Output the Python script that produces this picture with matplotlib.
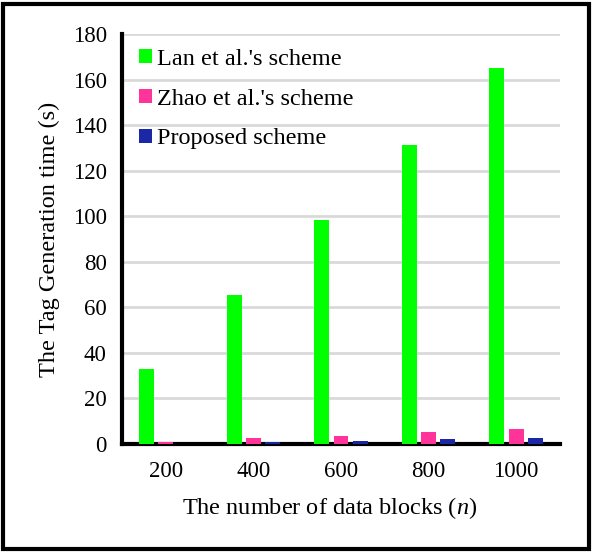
import numpy as np
import matplotlib.pyplot as plt
from matplotlib.patches import Rectangle

# data
blocks = ["200", "400", "600", "800", "1000"]
lan = [33.0, 65.5, 98.3, 131.2, 165.0]
zhao = [1.0, 2.5, 3.6, 5.1, 6.6]
proposed = [0.0, 0.7, 1.3, 2.0, 2.7]
labels = ["Lan et al.'s scheme", "Zhao et al.'s scheme", "Proposed scheme"]
colors = ["#00FF00", "#FF3399", "#1A27A6"]

plt.rcParams['font.family'] = ['Liberation Serif', 'DejaVu Serif']
plt.rcParams['mathtext.fontset'] = 'custom'
plt.rcParams['mathtext.it'] = 'Liberation Serif:italic'
plt.rcParams['mathtext.rm'] = 'Liberation Serif'

fig = plt.figure(figsize=(6.02, 5.53), dpi=100)
ax = fig.add_axes([122 / 602, 1 - 444 / 553, (560 - 122) / 602, (444 - 34) / 553])

x = np.arange(len(blocks))
width = 0.17
offs = 0.22
for i, (vals, lab, c) in enumerate(zip([lan, zhao, proposed], labels, colors)):
    ax.bar(x + (i - 1) * offs, vals, width, color=c, label=lab,
           edgecolor="none", zorder=3)

ax.set_ylim(0, 180)
ax.set_xlim(-0.5, len(blocks) - 0.5)
ax.set_yticks(np.arange(0, 181, 20))
ax.set_xticks(x)
ax.set_xticklabels(blocks)
ax.tick_params(axis='both', length=0, labelsize=16.5)
ax.tick_params(axis='x', pad=12)
ax.tick_params(axis='y', pad=11)
ax.yaxis.grid(True, color="#D9D9D9", linewidth=2, zorder=0)
ax.set_axisbelow(True)

for s in ["top", "right"]:
    ax.spines[s].set_visible(False)
for s in ["left", "bottom"]:
    ax.spines[s].set_linewidth(3)
    ax.spines[s].set_color("black")

ax.set_xlabel("The number of data blocks ($n$)", fontsize=17.5)
ax.set_ylabel("The Tag Generation time (s)", fontsize=17.5)
ax.xaxis.set_label_coords(0.475, -0.125)
ax.yaxis.set_label_coords(-0.142, 0.5)

leg = ax.legend(loc="upper left", bbox_to_anchor=(0.005, 1.0), frameon=False,
                fontsize=17.5, handlelength=0.55, handleheight=0.55,
                handletextpad=0.2, labelspacing=0.78, borderaxespad=0.2)

# outer frame around the whole picture
fig.patches.append(Rectangle((3 / 602, 4 / 553), 586 / 602, 545 / 553,
                             transform=fig.transFigure, fill=False,
                             edgecolor="black", linewidth=3))

fig.savefig("out.png", dpi=100)
